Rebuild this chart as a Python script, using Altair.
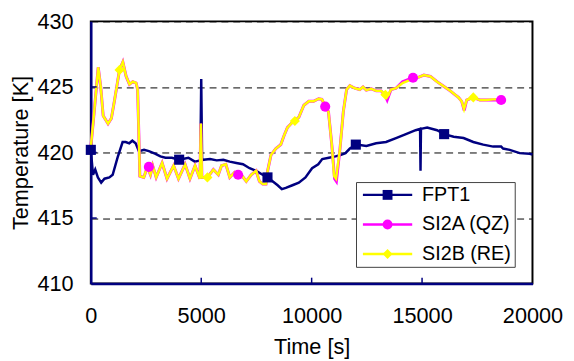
import altair as alt
import pandas as pd

FONT = "Liberation Sans"

# ---------------- data ----------------
fpt1_t = [0, 100, 200, 320, 470, 620, 840, 990, 1210, 1440,
          1580, 1740, 1880, 2030, 2180, 2410, 2630, 2930, 3150, 3380,
          3670, 4000, 4420, 4710, 4960, 5000, 5040, 5110, 5400, 5700,
          6000, 6290, 6590, 6890, 7190, 7490, 7780, 8000, 8230, 8460,
          8650, 8830, 9130, 9420, 9720, 10020, 10300, 10480, 10780, 11080,
          11300, 11530, 11730, 12030, 12480, 12920, 13370, 13820, 14270, 14710,
          14910, 14930, 14950, 15230, 15680, 16000, 16430, 16880, 17320, 17770,
          18220, 18580, 18670, 18970, 19420, 19870, 20000]
fpt1_T = [420.2, 418.3, 418.7, 418.1, 417.7, 418.0, 418.1, 418.3, 419.6, 420.8,
          420.8, 420.7, 420.9, 420.7, 420.1, 420.2, 420.1, 419.9, 419.7, 419.6,
          419.6, 419.45, 419.6, 419.3, 419.4, 425.6, 419.4, 419.45, 419.5, 419.4,
          419.45, 419.3, 419.2, 419.1, 418.8, 418.6, 418.3, 418.1, 417.8, 417.5,
          417.2, 417.3, 417.5, 417.7, 418.1, 418.8, 419.1, 419.5, 419.6, 419.7,
          419.8, 419.95, 420.3, 420.6, 420.5, 420.7, 420.8, 421.1, 421.4, 421.7,
          421.8, 418.6, 421.8, 421.9, 421.7, 421.4, 421.2, 421.1, 420.8, 420.6,
          420.45, 420.45, 420.3, 420.2, 419.95, 419.9, 419.85]

si2b_t = [0, 120, 335, 450, 560, 780, 930, 1080, 1300, 1450,
          1600, 1750, 1900, 2050, 2120, 2180, 2220, 2400, 2560, 2700,
          2800, 2960, 3230, 3450, 3750, 3970, 4270, 4490, 4720, 4940,
          4983, 5030, 5280, 5550, 5774, 5920, 6115, 6293, 6516, 6815,
          7040, 7262, 7486, 7635, 7784, 7933, 8008, 8156, 8380, 8603,
          8752, 8901, 9125, 9240, 9423, 9647, 9870, 10090, 10315, 10464,
          10614, 10762, 10912, 11016, 11105, 11284, 11433, 11582, 11731, 11955,
          12178, 12327, 12476, 12700, 12924, 13148, 13340, 13400, 13595, 13819,
          14117, 14410, 14635, 14857, 15082, 15380, 15678, 15977, 16275, 16500,
          16647, 16795, 16900, 17020, 17320, 17617, 17915, 18210, 18350]
si2b_T = [420.4, 422.5, 426.5, 425.0, 422.8, 422.2, 422.6, 424.05, 426.3, 426.9,
          425.8, 425.2, 425.4, 425.3, 424.8, 421.0, 418.2, 418.1, 418.9, 418.3,
          419.0, 418.1, 419.2, 418.0, 419.0, 418.0, 419.1, 418.0, 419.0, 418.0,
          422.2, 418.1, 418.1, 418.7, 418.3, 419.0, 419.1, 418.1, 418.5, 418.3,
          417.8, 418.3, 418.6, 417.8, 417.6, 417.6, 418.6, 419.8, 420.3, 420.6,
          421.3, 421.9, 422.3, 422.4, 422.7, 423.6, 423.9, 423.9, 424.1, 424.05,
          423.6, 423.1, 420.6, 418.2, 418.0, 420.3, 423.1, 424.8, 425.1, 424.9,
          424.8, 425.0, 424.75, 424.85, 424.7, 424.7, 424.4, 424.2, 424.8, 424.9,
          425.3, 425.5, 425.7, 425.75, 425.9, 425.8, 425.4, 425.05, 424.7, 424.4,
          424.2, 423.9, 423.3, 424.0, 424.2, 424.0, 424.0, 424.05, 424.05]

si2a_t = [0, 120, 335, 450, 560, 780, 930, 1080, 1300, 1450,
          1600, 1750, 1900, 2050, 2120, 2180, 2220, 2400, 2560, 2700,
          2800, 2960, 3230, 3450, 3750, 3970, 4270, 4490, 4720, 4940,
          4983, 5030, 5280, 5550, 5774, 5920, 6115, 6293, 6516, 6815,
          7040, 7262, 7486, 7635, 7784, 7933, 8008, 8156, 8380, 8603,
          8752, 8901, 9125, 9240, 9423, 9647, 9870, 10090, 10315, 10464,
          10614, 10762, 10912, 11040, 11120, 11284, 11433, 11582, 11731, 11955,
          12178, 12327, 12476, 12700, 12924, 13148, 13340, 13420, 13595, 13819,
          14117, 14410, 14635, 14857, 15082, 15380, 15678, 15977, 16275, 16500,
          16647, 16795, 16910, 17020, 17320, 17617, 17915, 18210, 18580]
si2a_T = [420.4, 422.5, 426.5, 425.0, 422.8, 422.2, 422.6, 424.05, 426.3, 426.9,
          425.8, 425.2, 425.4, 425.3, 424.8, 421.0, 418.2, 418.1, 418.9, 418.3,
          419.0, 418.1, 419.2, 418.0, 419.0, 418.0, 419.1, 418.0, 419.0, 418.0,
          422.2, 418.1, 418.1, 418.7, 418.3, 419.0, 419.1, 418.1, 418.5, 418.3,
          417.8, 418.3, 418.6, 417.8, 417.6, 417.6, 418.6, 419.8, 420.3, 420.6,
          421.3, 421.9, 422.3, 422.4, 422.7, 423.6, 423.9, 423.9, 424.1, 424.05,
          423.5, 423.1, 420.6, 418.0, 417.8, 420.3, 423.1, 424.8, 425.1, 424.9,
          424.8, 425.0, 424.75, 424.85, 424.7, 424.7, 424.3, 424.0, 424.8, 424.9,
          425.4, 425.6, 425.7, 425.75, 425.9, 425.8, 425.4, 425.05, 424.7, 424.4,
          424.2, 423.9, 423.2, 424.0, 424.2, 424.0, 424.0, 424.0, 424.0]

fpt1_mark_t = [0, 4000, 8000, 12000, 16000]
fpt1_mark_T = [420.2, 419.45, 418.1, 420.6, 421.4]
si2a_mark_t = [2630, 6670, 10614, 14590, 18580]
si2a_mark_T = [418.9, 418.3, 423.5, 425.7, 424.0]
si2b_mark_t = [1300, 5280, 9240, 13340, 17320]
si2b_mark_T = [426.3, 418.1, 422.4, 424.4, 424.2]

names = ["FPT1", "SI2A (QZ)", "SI2B (RE)"]
marker_keys = ["FPT1 marker", "SI2A (QZ) marker", "SI2B (RE) marker"]
colors = ["#000080", "#FF00FF", "#FFFF00"]
shapes = ["square", "circle", "diamond"]
x_ticks = [0, 5000, 10000, 15000, 20000]
y_ticks = [410, 415, 420, 425, 430]
inner_x_ticks = [5000, 10000, 15000]
inner_y_ticks = [415, 420, 425]


def frame(t, T, name):
    return pd.DataFrame({"t": t, "T": T, "series": name})


color_scale = alt.Scale(domain=names, range=colors)
marker_fill_scale = alt.Scale(domain=marker_keys, range=colors)
shape_scale = alt.Scale(domain=marker_keys, range=shapes)
xs = alt.Scale(domain=[0, 20000], nice=False)
ys = alt.Scale(domain=[410, 430], nice=False, zero=False)

LEG_X, LEG_Y = 269, 163
common_legend = dict(
    title=None, orient="none", legendX=LEG_X, legendY=LEG_Y, padding=3,
    labelFont=FONT, labelFontSize=20, symbolSize=100, symbolOffset=19,
    labelOffset=25, rowPadding=10,
)
# legend 1: box, line symbols and labels (from the line layers)
line_legend = alt.Legend(
    fillColor="white", strokeColor="#404040", labelColor="black",
    symbolType="M-5,0H5", symbolStrokeWidth=2.5, symbolOpacity=1, zindex=1,
    **common_legend,
)
# legend 2: the markers only (no labels), drawn over the middle of the legend lines
marker_legend = alt.Legend(
    labelExpr="''", labelColor="transparent", symbolStrokeWidth=0,
    symbolOpacity=1, zindex=2,
    **common_legend,
)

x_axis = alt.Axis(values=x_ticks, format="d", labelFont=FONT, labelFontSize=22,
                  labelColor="black", labelPadding=22, labelFlush=False, ticks=False,
                  grid=False, domainColor="#000080", domainWidth=2.5,
                  title="Time [s]", titleFont=FONT, titleFontSize=22,
                  titleFontWeight="normal", titleColor="black",
                  titleBaseline="top", titleY=54)
y_axis = alt.Axis(values=y_ticks, labelFont=FONT, labelFontSize=22, labelColor="black",
                  labelPadding=18, ticks=False, grid=True, gridColor="black",
                  gridDash=[7, 5], gridWidth=1, domainColor="#000080", domainWidth=2.5,
                  title="Temperature [K]", titleFont=FONT, titleFontSize=22,
                  titleFontWeight="normal", titleColor="black", titleAngle=-90,
                  titleX=-71, titleY=133, titleBaseline="middle", titleAlign="center")

X = alt.X("t:Q", scale=xs, axis=x_axis, title="Time [s]")
Y = alt.Y("T:Q", scale=ys, axis=y_axis, title="Temperature [K]")


def line_layer(df, width):
    return alt.Chart(df).mark_line(strokeWidth=width).encode(
        x=X, y=Y,
        color=alt.Color("series:N", scale=color_scale, legend=line_legend),
    )


line_fpt1 = line_layer(frame(fpt1_t, fpt1_T, "FPT1"), 2.5)
line_si2a = line_layer(frame(si2a_t, si2a_T, "SI2A (QZ)"), 3)
line_si2b = line_layer(frame(si2b_t, si2b_T, "SI2B (RE)"), 2.5)

markers = pd.concat([
    frame(fpt1_mark_t, fpt1_mark_T, marker_keys[0]),
    frame(si2a_mark_t, si2a_mark_T, marker_keys[1]),
    frame(si2b_mark_t, si2b_mark_T, marker_keys[2]),
], ignore_index=True)

pts = alt.Chart(markers).mark_point(filled=True, size=105, opacity=1).encode(
    x=X, y=Y,
    fill=alt.Fill("series:N", scale=marker_fill_scale, legend=marker_legend),
    shape=alt.Shape("series:N", scale=shape_scale, legend=marker_legend),
)

xt = alt.Chart(pd.DataFrame({"t": inner_x_ticks})).mark_rule(
    color="#000080", strokeWidth=1.5).encode(
    x=X, y=alt.value(266), y2=alt.value(260))
yt = alt.Chart(pd.DataFrame({"T": inner_y_ticks})).mark_rule(
    color="#000080", strokeWidth=1.5).encode(
    y=Y, x=alt.value(0), x2=alt.value(6))

chart = alt.layer(
    line_fpt1, line_si2a, line_si2b, pts, xt, yt
).properties(
    width=448, height=266,
    padding={"left": 84, "top": 11, "right": 34, "bottom": 80},
    autosize=alt.AutoSizeParams(type="none"),
).configure_view(stroke="black", strokeWidth=2)

chart.save("out.html", embed_options={"renderer": "svg", "actions": False})
